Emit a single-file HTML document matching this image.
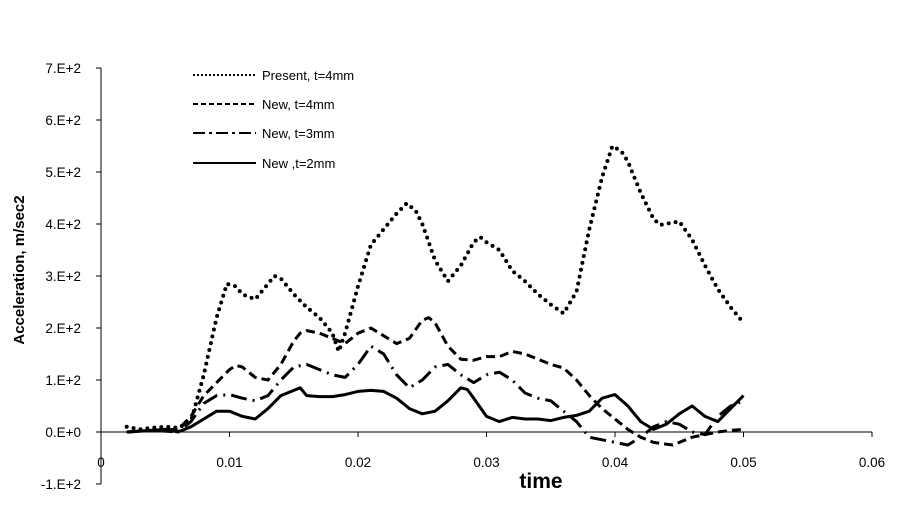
<!DOCTYPE html>
<html><head><meta charset="utf-8"><style>
body{margin:0;background:#fff;width:902px;height:515px;overflow:hidden}
svg{font-family:"Liberation Sans",Arial,sans-serif}
</style></head><body>
<svg id="chart" width="902" height="515" viewBox="0 0 902 515" xmlns="http://www.w3.org/2000/svg">
<g id="axes"></g>
<g id="series"></g>
<g id="legend"></g>
<text x="541" y="488" font-size="21" font-weight="bold" text-anchor="middle">time</text>
<text transform="translate(24,270) rotate(-90)" font-size="15" font-weight="bold" text-anchor="middle">Acceleration, m/sec2</text>
</svg>
<script>
const xTicks=[0,0.01,0.02,0.03,0.04,0.05,0.06];
const xTickLabels=["0","0.01","0.02","0.03","0.04","0.05","0.06"];
const yTicks=[-100,0,100,200,300,400,500,600,700];
const yTickLabels=["-1.E+2","0.E+0","1.E+2","2.E+2","3.E+2","4.E+2","5.E+2","6.E+2","7.E+2"];
const seriesNames=["Present, t=4mm","New, t=4mm","New, t=3mm","New ,t=2mm"];
const presentT=[0.002,0.003,0.004,0.005,0.006,0.007,0.008,0.009,0.0098,0.0105,0.011,0.012,0.013,0.0135,0.014,0.015,0.016,0.017,0.018,0.0185,0.019,0.020,0.021,0.022,0.023,0.0238,0.0245,0.025,0.026,0.027,0.028,0.029,0.0295,0.030,0.031,0.032,0.033,0.034,0.035,0.036,0.037,0.038,0.039,0.0398,0.0405,0.041,0.042,0.043,0.0435,0.045,0.046,0.047,0.048,0.049,0.050];
const presentV=[10,5,8,10,8,20,110,220,285,280,265,255,285,300,295,265,240,220,190,155,190,280,360,390,420,440,425,400,330,290,320,365,375,365,350,310,290,265,245,228,270,390,490,550,540,520,460,410,398,405,370,320,275,240,210];
const new4T=[0.002,0.004,0.006,0.007,0.008,0.009,0.010,0.0105,0.011,0.012,0.013,0.014,0.015,0.0155,0.016,0.017,0.018,0.019,0.020,0.021,0.022,0.023,0.024,0.025,0.0255,0.026,0.027,0.028,0.029,0.030,0.031,0.032,0.033,0.034,0.035,0.036,0.037,0.038,0.039,0.040,0.041,0.042,0.043,0.0445,0.045,0.046,0.047,0.048,0.049,0.050];
const new4V=[0,3,5,30,70,95,120,128,125,105,100,130,175,190,195,190,180,170,190,200,185,170,180,215,220,210,165,140,138,145,145,155,150,140,130,123,100,70,45,25,5,-10,-20,-25,-20,-10,-5,0,3,5];
const new3T=[0.002,0.004,0.006,0.007,0.008,0.009,0.010,0.011,0.012,0.013,0.014,0.015,0.016,0.017,0.018,0.019,0.020,0.021,0.022,0.023,0.024,0.025,0.026,0.027,0.028,0.029,0.030,0.031,0.032,0.033,0.034,0.035,0.036,0.037,0.038,0.039,0.040,0.041,0.042,0.043,0.044,0.045,0.046,0.047,0.048,0.049,0.050];
const new3V=[0,3,0,20,55,70,72,65,60,70,100,125,130,120,110,105,130,165,150,110,85,100,125,130,110,95,110,115,100,75,65,60,40,20,-10,-15,-20,-25,-10,10,20,15,0,-5,30,50,60];
const new2T=[0.002,0.005,0.006,0.007,0.008,0.009,0.010,0.011,0.012,0.013,0.014,0.015,0.0155,0.016,0.017,0.018,0.019,0.020,0.021,0.022,0.023,0.024,0.025,0.026,0.027,0.028,0.0285,0.029,0.030,0.031,0.032,0.033,0.034,0.035,0.036,0.037,0.038,0.039,0.040,0.041,0.042,0.043,0.044,0.045,0.046,0.047,0.048,0.049,0.050];
const new2V=[0,5,0,10,25,40,40,30,25,45,70,80,85,70,68,68,72,78,80,78,65,45,35,40,60,85,82,65,30,20,28,25,25,22,28,32,40,65,72,50,20,5,15,35,50,30,20,45,70];

const NS="http://www.w3.org/2000/svg";
const xs=t=>101+t*12850;
const ys=v=>432-v*0.52;
function mk(tag,attrs,parent){const e=document.createElementNS(NS,tag);for(const k in attrs)e.setAttribute(k,attrs[k]);parent.appendChild(e);return e;}
const axes=document.getElementById('axes');
const xl=mk('line',{x1:101,y1:ys(0),x2:872,y2:ys(0),stroke:'#000','stroke-width':1},axes);


const yl=mk('line',{x1:101,y1:ys(700),x2:101,y2:ys(-100),stroke:'#000','stroke-width':1},axes);


xTicks.forEach((t,i)=>{
  const tk=mk('line',{x1:xs(t),y1:ys(0),x2:xs(t),y2:ys(0)+5,stroke:'#000'},axes);
  
  
  const tx=mk('text',{x:xs(t),y:467,'font-size':13.5,'text-anchor':'middle'},axes);
  tx.textContent=xTickLabels[i];
  
  
});
yTicks.forEach((v,i)=>{
  const tk=mk('line',{x1:96,y1:ys(v),x2:101,y2:ys(v),stroke:'#000'},axes);
  
  
  const tx=mk('text',{x:81,y:ys(v)+5,'font-size':13.5,'text-anchor':'end'},axes);
  tx.textContent=yTickLabels[i];
  
  
});
const styles=[
  {dash:'0 7',w:4,cap:'round'},
  {dash:'9 5',w:3,cap:'butt'},
  {dash:'16 6 2 6',w:3,cap:'butt'},
  {dash:'none',w:3,cap:'butt'}
];
const data=[[presentT,presentV],[new4T,new4V],[new3T,new3V],[new2T,new2V]];
const sg=document.getElementById('series');
const names=['series-present-4mm','series-new-4mm','series-new-3mm','series-new-2mm'];
data.forEach((d,i)=>{
  const pts=d[0].map((t,j)=>xs(t).toFixed(1)+','+ys(d[1][j]).toFixed(1)).join(' ');
  const pl=mk('polyline',{points:pts,fill:'none',stroke:'#000','stroke-width':styles[i].w,'stroke-dasharray':styles[i].dash,'stroke-linecap':styles[i].cap,'stroke-linejoin':'round'},sg);
  
  
});
const lg=document.getElementById('legend');
const ly=[75,104,133,163];
const lstyles=[{dash:'2 2',w:2},{dash:'5 3',w:2},{dash:'12 4 3 4',w:2},{dash:'none',w:2}];
seriesNames.forEach((n,i)=>{
  const g=mk('g',{},lg);
  
  
  mk('line',{x1:193,y1:ly[i],x2:256,y2:ly[i],stroke:'#000','stroke-width':lstyles[i].w,'stroke-dasharray':lstyles[i].dash},g);
  const t=mk('text',{x:262,y:ly[i]+5,'font-size':13},g);
  t.textContent=n;
});
</script>
</body></html>
